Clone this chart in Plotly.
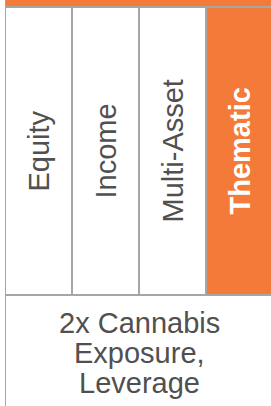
import plotly.graph_objects as go

# ---- data ----
categories = ["Equity", "Income", "Multi-Asset", "Thematic"]
highlighted = "Thematic"
row_values = [1, 1, 1, 1]          # each category fills the full row
description_lines = ["2x Cannabis", "Exposure,", "Leverage"]

# ---- style ----
ORANGE = "#f37a38"
GRAY = "#a6a6a6"
TEXT = "#505050"
FONT = "Liberation Sans, Arial, sans-serif"
FS = 29

fill_colors = [ORANGE if c == highlighted else "white" for c in categories]
text_colors = ["white" if c == highlighted else TEXT for c in categories]
labels = [f"<b>{c}</b>" if c == highlighted else c for c in categories]

fig = go.Figure()
fig.add_trace(go.Bar(
    x=categories,
    y=row_values,
    marker=dict(color=fill_colors, line=dict(color=GRAY, width=2)),
    hoverinfo="skip",
))

for c, lab, col, v in zip(categories, labels, text_colors, row_values):
    fig.add_annotation(
        x=c, y=v / 2, xref="x", yref="y", text=lab, showarrow=False,
        textangle=-90, font=dict(family=FONT, size=FS, color=col),
        xanchor="center", yanchor="middle",
    )

# header band above and description box below the category row
fig.add_shape(type="rect", xref="x", yref="y", x0=-0.5, x1=3.6, y0=1, y1=1.2,
              fillcolor=ORANGE, line=dict(color=GRAY, width=2), layer="below")
fig.add_shape(type="rect", xref="x", yref="y", x0=-0.5, x1=3.6, y0=-0.6, y1=0,
              fillcolor="white", line=dict(color=GRAY, width=2), layer="below")

line_step = 30
for i, line in enumerate(description_lines):
    fig.add_annotation(
        x=1.5, y=-0.2, xref="x", yref="y",
        text=line, showarrow=False,
        font=dict(family=FONT, size=FS, color=TEXT),
        xanchor="center", yanchor="middle",
        yshift=-(i - 1) * line_step,
    )

fig.update_layout(
    width=271, height=406,
    margin=dict(l=5, r=0, t=0, b=0),
    paper_bgcolor="white", plot_bgcolor="white",
    bargap=0,
    showlegend=False,
    xaxis=dict(range=[-0.5, -0.5 + 266 / 67], visible=False, fixedrange=True),
    yaxis=dict(range=[-111 / 288, 1 + 7 / 288], visible=False, fixedrange=True),
)

fig.write_html(
    "out.html",
    config={"displayModeBar": False},
    post_script="document.body.style.margin='0';document.body.style.overflow='hidden';",
)
